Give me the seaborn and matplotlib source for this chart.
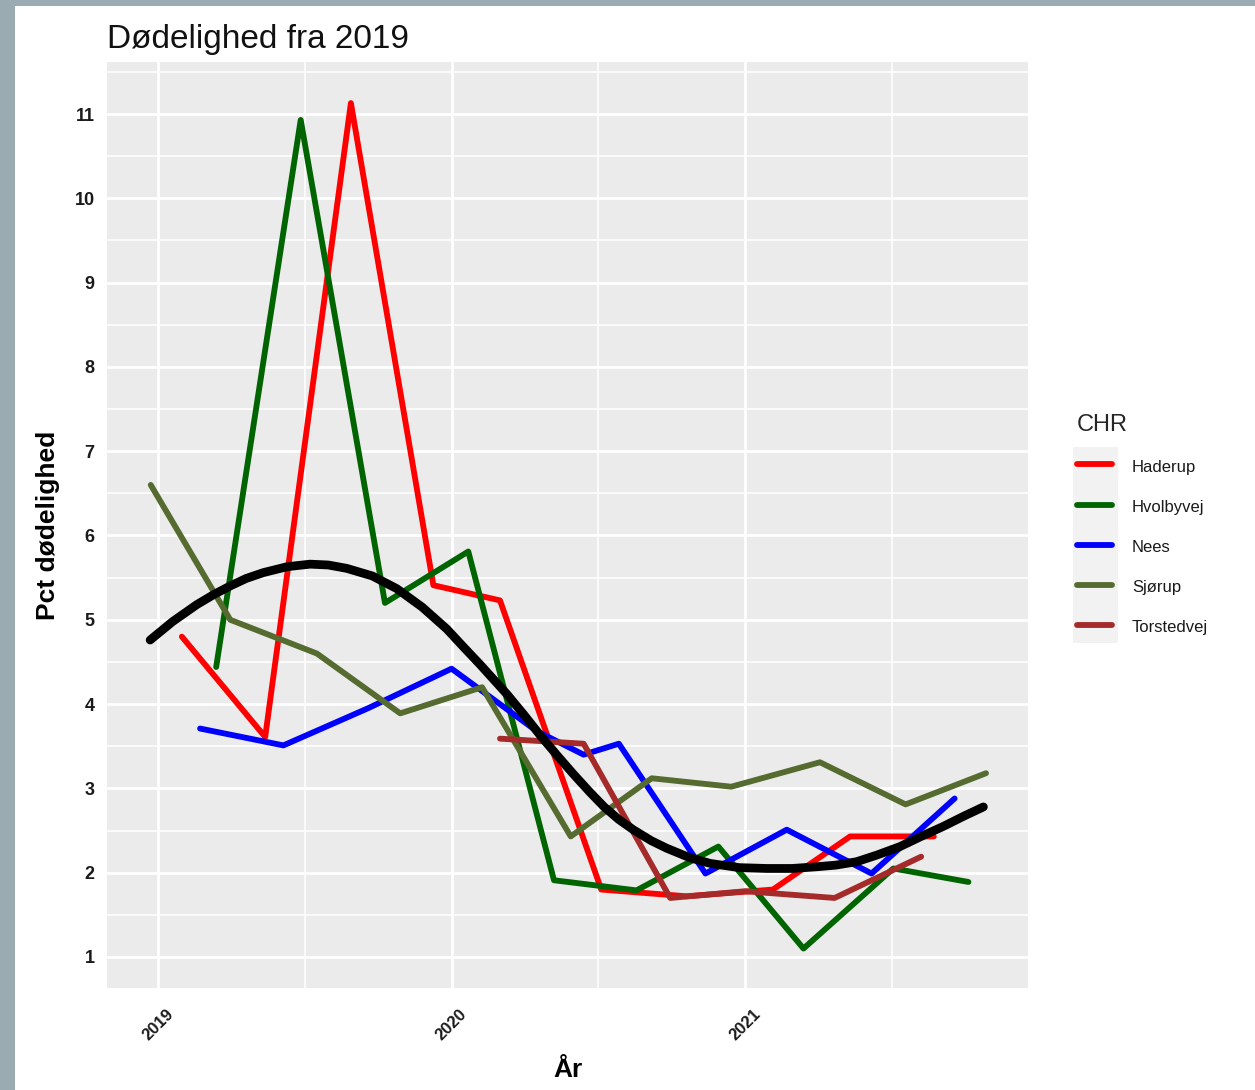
import numpy as np
import pandas as pd
import matplotlib
matplotlib.use("Agg")
import matplotlib.pyplot as plt
from matplotlib.lines import Line2D
from matplotlib.patches import Rectangle
from matplotlib.ticker import MultipleLocator
import seaborn as sns

# Data (x = decimal year, y = pct mortality)
haderup_x = [2019.081, 2019.365, 2019.657, 2019.938, 2020.165, 2020.51, 2020.80, 2021.095, 2021.358, 2021.643]
haderup_y = [4.80, 3.61, 11.13, 5.41, 5.23, 1.80, 1.72, 1.80, 2.43, 2.43]

hvolbyvej_x = [2019.198, 2019.486, 2019.773, 2020.057, 2020.349, 2020.63, 2020.909, 2021.199, 2021.505, 2021.761]
hvolbyvej_y = [4.44, 10.93, 5.20, 5.81, 1.91, 1.79, 2.31, 1.10, 2.05, 1.89]

nees_x = [2019.143, 2019.427, 2019.715, 2020.0, 2020.29, 2020.45, 2020.57, 2020.865, 2021.142, 2021.431, 2021.714]
nees_y = [3.71, 3.51, 3.95, 4.42, 3.68, 3.40, 3.53, 1.99, 2.51, 1.99, 2.88]

sjorup_x = [2018.975, 2019.246, 2019.541, 2019.825, 2020.104, 2020.406, 2020.682, 2020.953, 2021.255, 2021.547, 2021.821]
sjorup_y = [6.60, 5.00, 4.60, 3.89, 4.20, 2.43, 3.12, 3.02, 3.31, 2.81, 3.18]

torstedvej_x = [2020.165, 2020.45, 2020.745, 2021.0, 2021.305, 2021.60]
torstedvej_y = [3.59, 3.53, 1.70, 1.78, 1.70, 2.19]

# smoothed trend (black curve)
smooth_x = [2018.973, 2019.05, 2019.132, 2019.19, 2019.245, 2019.30, 2019.359, 2019.44,
            2019.518, 2019.58, 2019.643, 2019.73, 2019.813, 2019.90, 2019.984, 2020.04,
            2020.097, 2020.188, 2020.245, 2020.302, 2020.36, 2020.415, 2020.47, 2020.52,
            2020.57, 2020.619, 2020.68, 2020.733, 2020.81, 2020.881, 2020.98, 2021.074,
            2021.16, 2021.244, 2021.31, 2021.38, 2021.45, 2021.528, 2021.60, 2021.676,
            2021.745, 2021.812]
smooth_y = [4.76, 4.98, 5.18, 5.30, 5.40, 5.49, 5.56, 5.63,
            5.66, 5.65, 5.61, 5.52, 5.37, 5.15, 4.89, 4.68,
            4.47, 4.12, 3.88, 3.63, 3.39, 3.17, 2.96, 2.78,
            2.63, 2.51, 2.38, 2.29, 2.18, 2.11, 2.06, 2.05,
            2.05, 2.07, 2.09, 2.13, 2.21, 2.31, 2.43, 2.55,
            2.67, 2.78]

chr_names = ["Haderup", "Hvolbyvej", "Nees", "Sjørup", "Torstedvej"]
chr_colors = ["#FF0000", "#006400", "#0000FF", "#556B2F", "#A52A2A"]
year_ticks = [2019, 2020, 2021]

series = {
    "Haderup": (haderup_x, haderup_y),
    "Hvolbyvej": (hvolbyvej_x, hvolbyvej_y),
    "Nees": (nees_x, nees_y),
    "Sjørup": (sjorup_x, sjorup_y),
    "Torstedvej": (torstedvej_x, torstedvej_y),
}
df = pd.concat(
    [pd.DataFrame({"year": xs, "pct": ys, "CHR": name}) for name, (xs, ys) in series.items()],
    ignore_index=True,
)
smooth_df = pd.DataFrame({"year": smooth_x, "pct": smooth_y})

sns.set_theme(style="darkgrid")
plt.rcParams["font.family"] = ["Liberation Sans", "DejaVu Sans"]

W, H = 1255, 1090
fig = plt.figure(figsize=(W / 100, H / 100), dpi=100, facecolor="#9AACB2")
fig.add_artist(Rectangle((15 / W, 0), 1, 1 - 6 / H, transform=fig.transFigure,
                         facecolor="white", edgecolor="none", zorder=-2))

ax = fig.add_axes([107 / W, 1 - 988 / H, (1028 - 107) / W, (988 - 62) / H])
ax.set_facecolor("#EBEBEB")

palette = dict(zip(chr_names, chr_colors))
sns.lineplot(data=df, x="year", y="pct", hue="CHR", hue_order=chr_names, palette=palette,
             estimator=None, linewidth=4.2, legend=False, ax=ax)
sns.lineplot(data=smooth_df, x="year", y="pct", color="black", linewidth=6.3,
             estimator=None, ax=ax)

ax.set_xlim(2018.826, 2021.964)
ax.set_ylim(0.632, 11.617)
ax.set_xticks(year_ticks)
ax.set_xticklabels([str(y) for y in year_ticks])
ax.xaxis.set_minor_locator(MultipleLocator(0.5))
ax.set_yticks(range(1, 12))
ax.yaxis.set_minor_locator(MultipleLocator(0.5))
ax.grid(which="major", color="white", linewidth=2.0)
ax.grid(which="minor", color="white", linewidth=1.1)
for s in ax.spines.values():
    s.set_visible(False)

ax.tick_params(axis="both", which="major", length=5, width=1.2, color="#333333", pad=4)
ax.tick_params(axis="both", which="minor", length=0)
ax.tick_params(axis="y", labelsize=13, labelcolor="#1a1a1a")
ax.tick_params(axis="x", labelsize=12, labelcolor="#1a1a1a", pad=8)
for lab in ax.get_yticklabels():
    lab.set_fontweight("bold")
for lab in ax.get_xticklabels():
    lab.set_fontweight("bold")
    lab.set_rotation(45)
    lab.set_ha("center")
    lab.set_va("top")

ax.set_title("Dødelighed fra 2019", loc="left", fontsize=24, pad=10, color="#111111")
ax.set_xlabel("År", fontsize=19, fontweight="bold", color="black")
ax.set_ylabel("Pct dødelighed", fontsize=19, fontweight="bold", color="black")
ax.xaxis.set_label_coords(0.5, -0.076)
ax.yaxis.set_label_coords(-0.051, 0.5)

# legend
fig.add_artist(Rectangle((1073 / W, 1 - 643 / H), 45 / W, 196 / H, transform=fig.transFigure,
                         facecolor="#F2F2F2", edgecolor="none", zorder=-1))
handles = [Line2D([0], [0], color=c, linewidth=4.2) for c in chr_colors]
leg = ax.legend(handles, chr_names, title="CHR", loc="upper left",
                bbox_to_anchor=(1077 / W, 1 - 414 / H), bbox_transform=fig.transFigure,
                frameon=False, fontsize=12, title_fontsize=17, alignment="left",
                handlelength=2.1, handletextpad=1.2, labelspacing=1.25,
                handleheight=1.4, borderpad=0, borderaxespad=0)
for t in leg.get_texts():
    t.set_color("#1a1a1a")

fig.savefig("out.png", dpi=100)
